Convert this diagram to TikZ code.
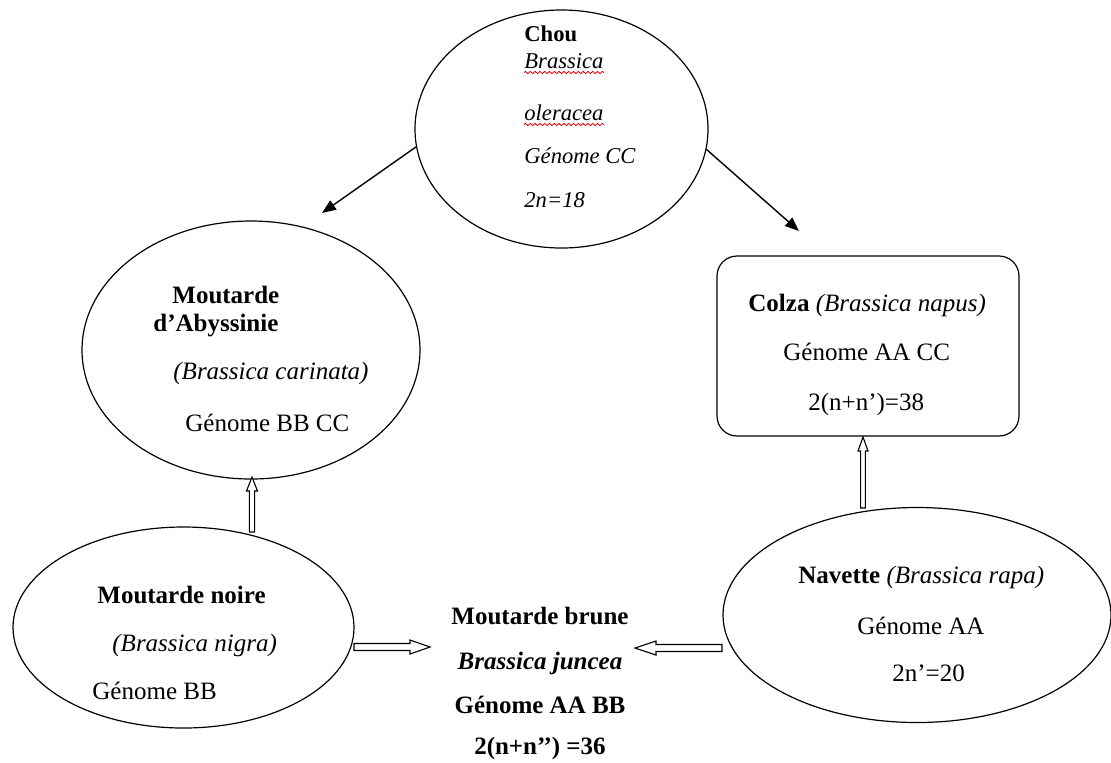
\documentclass[tikz,border=0pt]{standalone}
\usepackage{fontspec}
\setmainfont{Liberation Serif}
\usetikzlibrary{shapes.geometric,arrows.meta,decorations.pathmorphing}
\tikzset{
  oval/.style={draw, ellipse, line width=0.6pt, inner sep=0pt},
  boxnode/.style={draw, rectangle, rounded corners=10pt, line width=0.6pt, inner sep=0pt},
  txt/.style={inner sep=0pt, text height=8.6pt, text depth=2.6pt, font=\fontsize{12.5pt}{15pt}\selectfont},
  ltxt/.style={txt, anchor=west},
  ctxt/.style={txt, anchor=center},
  choutxt/.style={ltxt, text height=7.8pt, text depth=2.3pt, font=\fontsize{11.3pt}{13.5pt}\selectfont},
  thinarrow/.style={line width=0.7pt, -{Triangle[length=7pt,width=5.5pt]}},
  hollow/.style={draw, fill=white, line width=0.55pt, line join=miter},
  spell/.style={red!85!black, line width=0.4pt, decorate, decoration={snake, amplitude=0.55pt, segment length=2.4pt}}
}
% hollow block arrow: #1 tail coordinate, #2 direction angle, #3 length (px),
% #4 shaft half width, #5 head half width, #6 head length
\newcommand\hollowarrow[6]{%
  \begin{scope}[shift={(#1)}, rotate=#2]
    \draw[hollow] (0,-#4) -- ({#3-#6},-#4) -- ({#3-#6},-#5) -- (#3,0) -- ({#3-#6},#5) -- ({#3-#6},#4) -- (0,#4) -- cycle;
  \end{scope}}
\begin{document}
\begin{tikzpicture}[x=0.5pt, y=-0.5pt]
\useasboundingbox (0,0) rectangle (1111,762);

% shapes
\node[oval, minimum width=146.5pt, minimum height=119pt] (chou) at (561.5,129) {};
\node[oval, minimum width=169pt, minimum height=129pt] (abys) at (251,350) {};
\node[oval, minimum width=170.5pt, minimum height=100.5pt] (noire) at (183.5,627.5) {};
\node[oval, minimum width=194pt, minimum height=107.5pt] (navette) at (917,615) {};
\node[boxnode, minimum width=151pt, minimum height=90pt] (colza) at (868,346) {};

% Chou text
\node[choutxt] (t1) at (524,36) {\textbf{Chou}};
\node[choutxt] (t2) at (524,63) {\textit{Brassica}};
\node[choutxt] (t3) at (524,115) {\textit{oleracea}};
\node[choutxt] (t4) at (524,158) {\textit{Génome CC}};
\node[choutxt] (t5) at (524,202) {\textit{2n=18}};
\draw[spell] ([yshift=0.5pt]t2.south west) -- ([yshift=0.5pt]t2.south east);
\draw[spell] ([yshift=0.5pt]t3.south west) -- ([yshift=0.5pt]t3.south east);

% Abyssinie text
\node[ltxt] (a1) at (172,297) {\textbf{Moutarde}};
\node[ltxt] (a2) at (153,325) {\textbf{d’Abyssinie}};
\node[ltxt] (a3) at (173,373) {\textit{(Brassica carinata)}};
\node[ltxt] (a4) at (185,425) {Génome BB CC};

% Colza text
\node[ltxt] (c1) at (748,305) {\textbf{Colza} \textit{(Brassica napus)}};
\node[ltxt] (c2) at (783,354) {Génome AA CC};
\node[ltxt] (c3) at (808,404) {2(n+n’)=38};

% Moutarde noire text
\node[ltxt] (n1) at (97,597) {\textbf{Moutarde noire}};
\node[ltxt] (n2) at (112,645) {\textit{(Brassica nigra)}};
\node[ltxt] (n3) at (92,693) {Génome BB};

% Moutarde brune text
\node[ctxt] (b1) at (540,618) {\textbf{Moutarde brune}};
\node[ctxt] (b2) at (540,663) {\textbf{\textit{Brassica juncea}}};
\node[ctxt] (b3) at (540,707) {\textbf{Génome AA BB}};
\node[ctxt] (b4) at (540,748) {\textbf{2(n+n’’) =36}};

% Navette text
\node[ltxt] (v1) at (798,577) {\textbf{Navette} \textit{(Brassica rapa)}};
\node[ltxt] (v2) at (857,628) {Génome AA};
\node[ltxt] (v3) at (892,675) {2n’=20};

% thin arrows from Chou
\coordinate (abystip) at (322,213);
\coordinate (colzatip) at (799,231);
\draw[thinarrow] (chou.187) -- (abystip);
\draw[thinarrow] (chou.352) -- (colzatip);

% hollow block arrows
\coordinate (noiretop) at (252,532);
\coordinate (navettetop) at (863,508);
\coordinate (noireeast) at (354,647);
\coordinate (navettewest) at (722,648);
\hollowarrow{noiretop}{90}{55}{2.6}{5.5}{14}
\hollowarrow{navettetop}{90}{71}{2.4}{5}{14}
\hollowarrow{noireeast}{0}{76}{3.5}{7}{20}
\hollowarrow{navettewest}{180}{87}{3.5}{7}{21}
\end{tikzpicture}
\end{document}
